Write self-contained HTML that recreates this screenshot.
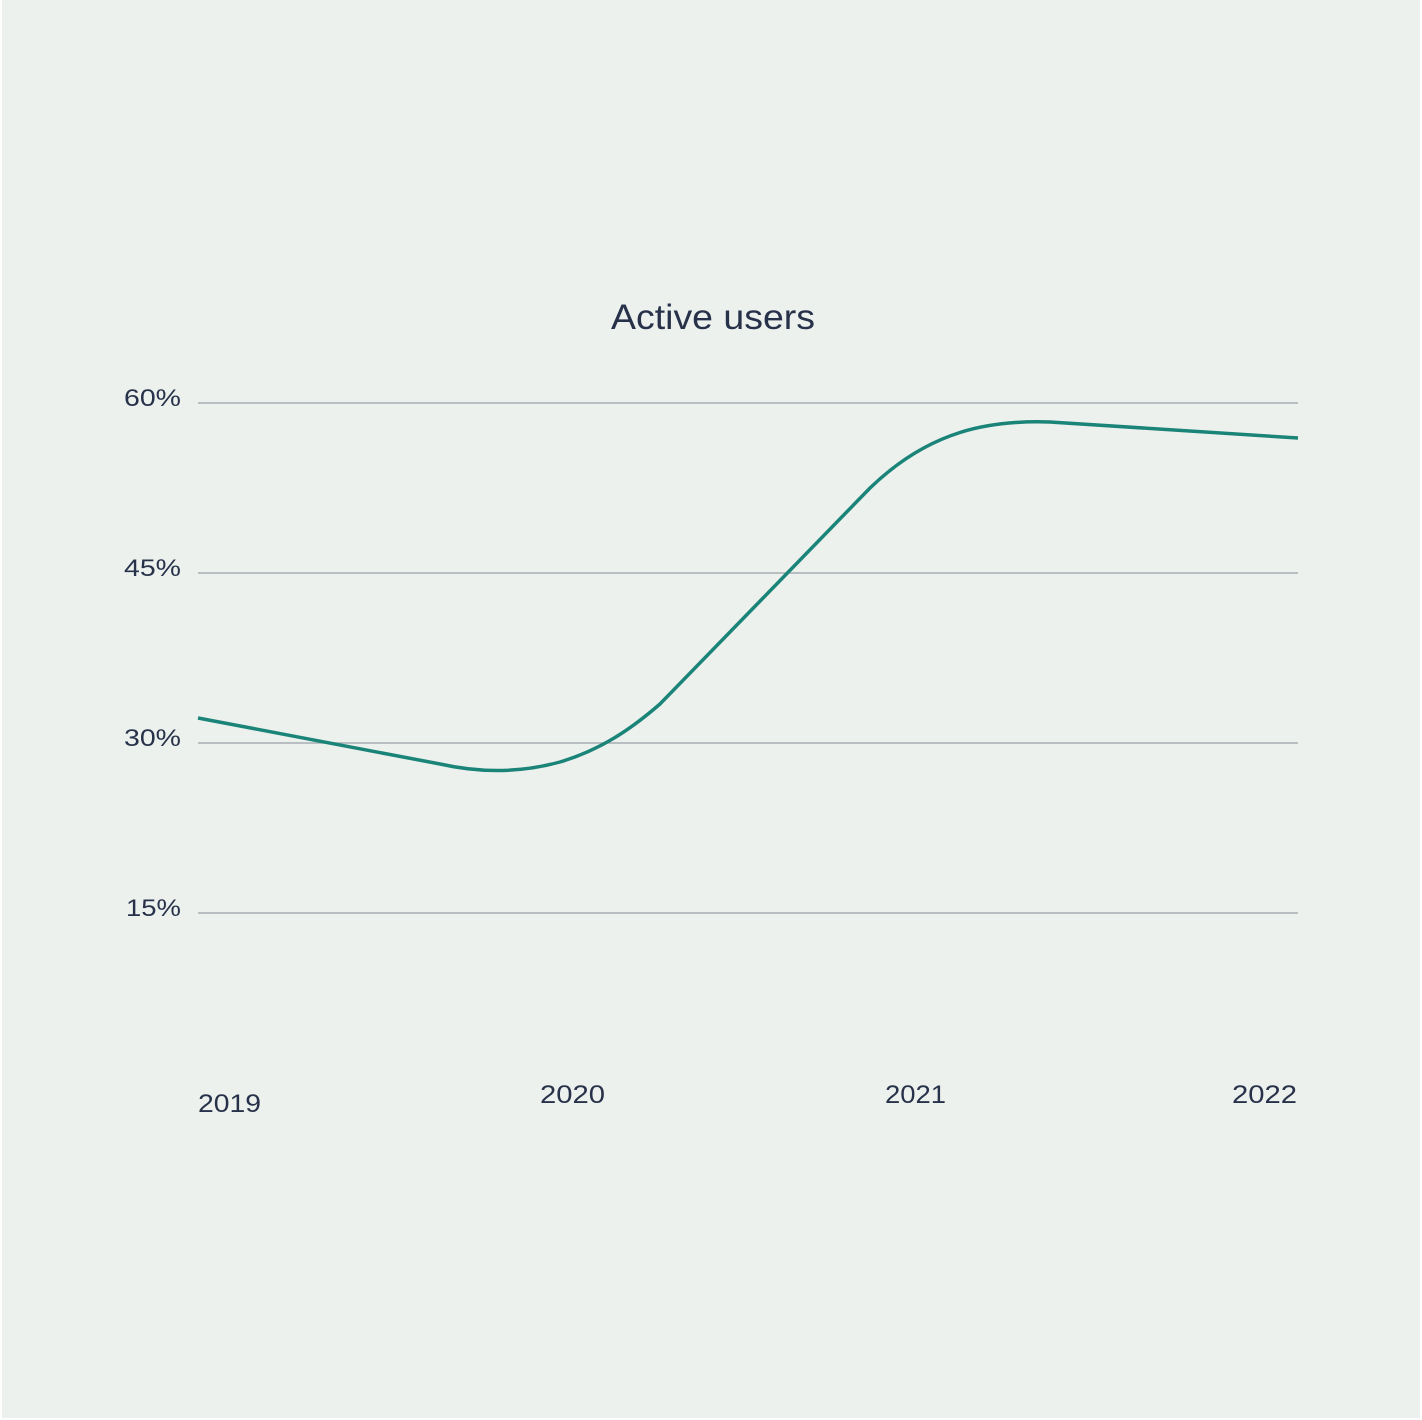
<!DOCTYPE html>
<html><head><style>
html,body{margin:0;padding:0;background:#fff;}
svg{display:block}
</style></head><body>
<svg width="1422" height="1420" xmlns="http://www.w3.org/2000/svg" font-family="Liberation Sans, sans-serif">
<rect x="2" y="0" width="1418" height="1418" fill="#ecf1ee"/>
<text x="611" y="329" font-size="35" fill="#27324a" textLength="204" lengthAdjust="spacingAndGlyphs">Active users</text>
<g stroke="#a7adb2" stroke-width="1.6">
<line x1="198" y1="403" x2="1298" y2="403"/>
<line x1="198" y1="573" x2="1298" y2="573"/>
<line x1="198" y1="743" x2="1298" y2="743"/>
<line x1="198" y1="913" x2="1298" y2="913"/>
</g>
<g font-size="24" fill="#27324a">
<text x="124" y="406" textLength="57" lengthAdjust="spacingAndGlyphs">60%</text>
<text x="124" y="576" textLength="57" lengthAdjust="spacingAndGlyphs">45%</text>
<text x="124" y="746" textLength="57" lengthAdjust="spacingAndGlyphs">30%</text>
<text x="126" y="916" textLength="55" lengthAdjust="spacingAndGlyphs">15%</text>
</g>
<g font-size="25" fill="#27324a">
<text x="198" y="1112" textLength="63" lengthAdjust="spacingAndGlyphs">2019</text>
<text x="540" y="1103" textLength="65" lengthAdjust="spacingAndGlyphs">2020</text>
<text x="885" y="1103" textLength="61" lengthAdjust="spacingAndGlyphs">2021</text>
<text x="1232" y="1103" textLength="65" lengthAdjust="spacingAndGlyphs">2022</text>
</g>
<path d="M198,718 L440,764 C480,773 520,773 560,762 C600,750 630,730 660,704 L870,488 C930,430 990,420 1050,422 L1298,438" fill="none" stroke="#1b8478" stroke-width="3.5"/>
</svg>
</body></html>
